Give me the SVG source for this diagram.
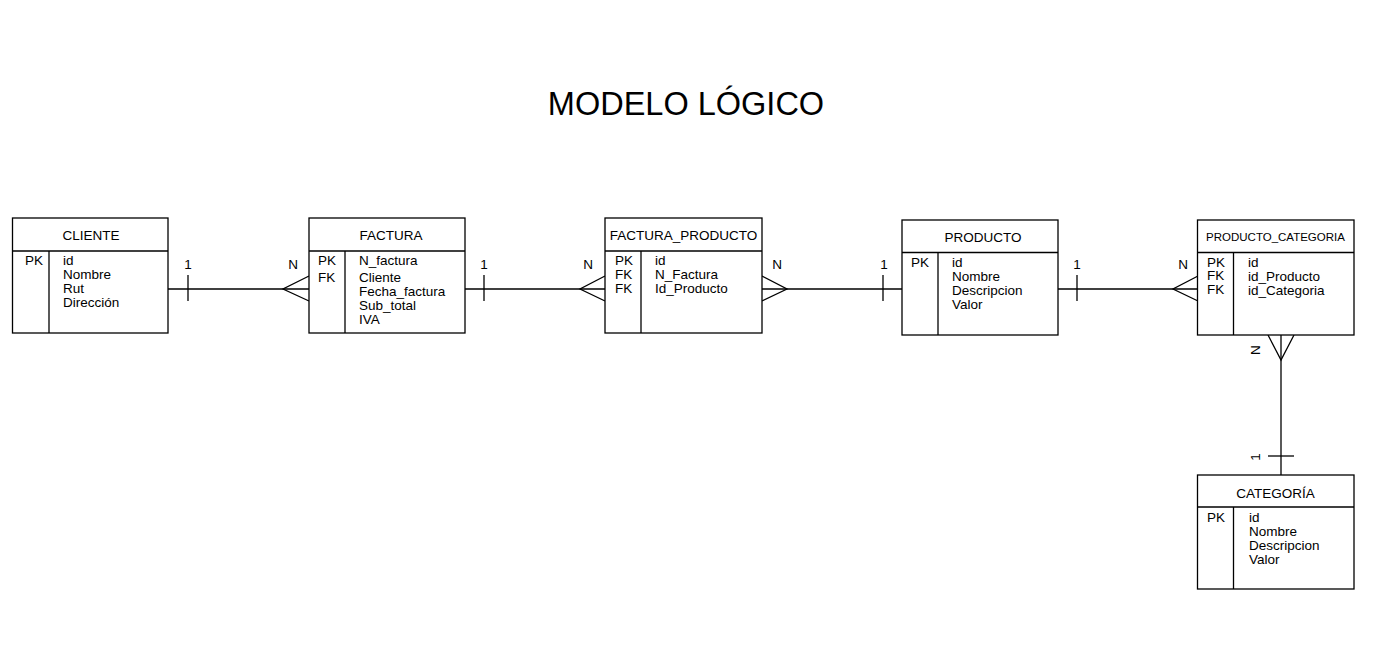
<svg xmlns="http://www.w3.org/2000/svg" width="1373" height="653" viewBox="0 0 1373 653">
<style>
  .box { fill: #ffffff; stroke: #000000; stroke-width: 1.3; }
  .ln { fill: none; stroke: #000000; stroke-width: 1.3; }
  text { font-family: "Liberation Sans", Arial, sans-serif; fill: #000000; }
  .t { font-size: 13.5px; text-anchor: middle; }
  .f { font-size: 13.5px; }
  .c { font-size: 13.5px; text-anchor: middle; }
  .title { font-size: 32.5px; text-anchor: middle; }
</style>
<rect x="0" y="0" width="1373" height="653" fill="#ffffff"/>
<text class="title" x="686" y="115">MODELO LÓGICO</text>

<g id="connectors">
  <!-- CLIENTE - FACTURA -->
  <line class="ln" x1="168" y1="289" x2="309" y2="289"/>
  <line class="ln" x1="188" y1="275" x2="188" y2="301"/>
  <polyline class="ln" points="309,276 283,289 309,301"/>
  <text class="c" x="188" y="269">1</text>
  <text class="c" x="293" y="269">N</text>
  <!-- FACTURA - FACTURA_PRODUCTO -->
  <line class="ln" x1="465" y1="289" x2="605" y2="289"/>
  <line class="ln" x1="484" y1="275" x2="484" y2="301"/>
  <polyline class="ln" points="605,276 580,289 605,301"/>
  <text class="c" x="484" y="269">1</text>
  <text class="c" x="588" y="269">N</text>
  <!-- FACTURA_PRODUCTO - PRODUCTO -->
  <line class="ln" x1="762" y1="289" x2="902" y2="289"/>
  <polyline class="ln" points="762,276 787,289 762,301"/>
  <line class="ln" x1="883" y1="275" x2="883" y2="301"/>
  <text class="c" x="777" y="269">N</text>
  <text class="c" x="884" y="269">1</text>
  <!-- PRODUCTO - PRODUCTO_CATEGORIA -->
  <line class="ln" x1="1058" y1="289" x2="1198" y2="289"/>
  <line class="ln" x1="1077" y1="275" x2="1077" y2="301"/>
  <polyline class="ln" points="1198,276 1173,289 1198,301"/>
  <text class="c" x="1077" y="269">1</text>
  <text class="c" x="1183" y="269">N</text>
  <!-- PRODUCTO_CATEGORIA - CATEGORIA -->
  <line class="ln" x1="1281" y1="335" x2="1281" y2="475"/>
  <polyline class="ln" points="1268,335 1281,360 1294,335"/>
  <line class="ln" x1="1268" y1="456" x2="1294" y2="456"/>
  <text class="c" transform="translate(1260,350) rotate(-90)" x="0" y="0">N</text>
  <text class="c" transform="translate(1260,457) rotate(-90)" x="0" y="0">1</text>
</g>

<g id="cliente">
  <rect class="box" x="12.5" y="218" width="155.5" height="115"/>
  <line class="ln" x1="12.5" y1="251" x2="168" y2="251"/>
  <line class="ln" x1="49" y1="251" x2="49" y2="333"/>
  <text class="t" x="91" y="240">CLIENTE</text>
  <text class="f" x="25" y="265">PK</text>
  <text class="f" x="63" y="265">id</text>
  <text class="f" x="63" y="279">Nombre</text>
  <text class="f" x="63" y="293">Rut</text>
  <text class="f" x="63" y="307">Dirección</text>
</g>

<g id="factura">
  <rect class="box" x="309" y="218" width="156" height="115"/>
  <line class="ln" x1="309" y1="251" x2="465" y2="251"/>
  <line class="ln" x1="345" y1="251" x2="345" y2="333"/>
  <text class="t" x="391" y="240">FACTURA</text>
  <text class="f" x="318" y="265">PK</text>
  <text class="f" x="318" y="282">FK</text>
  <text class="f" x="359" y="265">N_factura</text>
  <text class="f" x="359" y="282">Cliente</text>
  <text class="f" x="359" y="296">Fecha_factura</text>
  <text class="f" x="359" y="310">Sub_total</text>
  <text class="f" x="359" y="324">IVA</text>
</g>

<g id="factura_producto">
  <rect class="box" x="605" y="218" width="157" height="115"/>
  <line class="ln" x1="605" y1="251" x2="762" y2="251"/>
  <line class="ln" x1="641" y1="251" x2="641" y2="333"/>
  <text class="t" x="683.5" y="240">FACTURA_PRODUCTO</text>
  <text class="f" x="615" y="265">PK</text>
  <text class="f" x="615" y="279">FK</text>
  <text class="f" x="615" y="293">FK</text>
  <text class="f" x="655" y="265">id</text>
  <text class="f" x="655" y="279">N_Factura</text>
  <text class="f" x="655" y="293">Id_Producto</text>
</g>

<g id="producto">
  <rect class="box" x="902" y="220" width="156" height="115"/>
  <line class="ln" x1="902" y1="252.5" x2="1058" y2="252.5"/>
  <line class="ln" x1="938" y1="252.5" x2="938" y2="335"/>
  <text class="t" x="983" y="242">PRODUCTO</text>
  <text class="f" x="911" y="267">PK</text>
  <text class="f" x="952" y="267">id</text>
  <text class="f" x="952" y="281">Nombre</text>
  <text class="f" x="952" y="295">Descripcion</text>
  <text class="f" x="952" y="309">Valor</text>
</g>

<g id="producto_categoria">
  <rect class="box" x="1197.5" y="220" width="156.5" height="115"/>
  <line class="ln" x1="1197.5" y1="252.5" x2="1354" y2="252.5"/>
  <line class="ln" x1="1233.5" y1="252.5" x2="1233.5" y2="335"/>
  <text class="t" x="1275.5" y="241" style="font-size:11.5px">PRODUCTO_CATEGORIA</text>
  <text class="f" x="1207" y="267">PK</text>
  <text class="f" x="1207" y="280">FK</text>
  <text class="f" x="1207" y="294">FK</text>
  <text class="f" x="1248" y="267">id</text>
  <text class="f" x="1248" y="281">id_Producto</text>
  <text class="f" x="1248" y="295">id_Categoria</text>
</g>

<g id="categoria">
  <rect class="box" x="1197.5" y="475" width="156.5" height="114"/>
  <line class="ln" x1="1197.5" y1="507" x2="1354" y2="507"/>
  <line class="ln" x1="1233.5" y1="507" x2="1233.5" y2="589"/>
  <text class="t" x="1275.5" y="498">CATEGORÍA</text>
  <text class="f" x="1207" y="522">PK</text>
  <text class="f" x="1249" y="522">id</text>
  <text class="f" x="1249" y="536">Nombre</text>
  <text class="f" x="1249" y="550">Descripcion</text>
  <text class="f" x="1249" y="564">Valor</text>
</g>
</svg>
